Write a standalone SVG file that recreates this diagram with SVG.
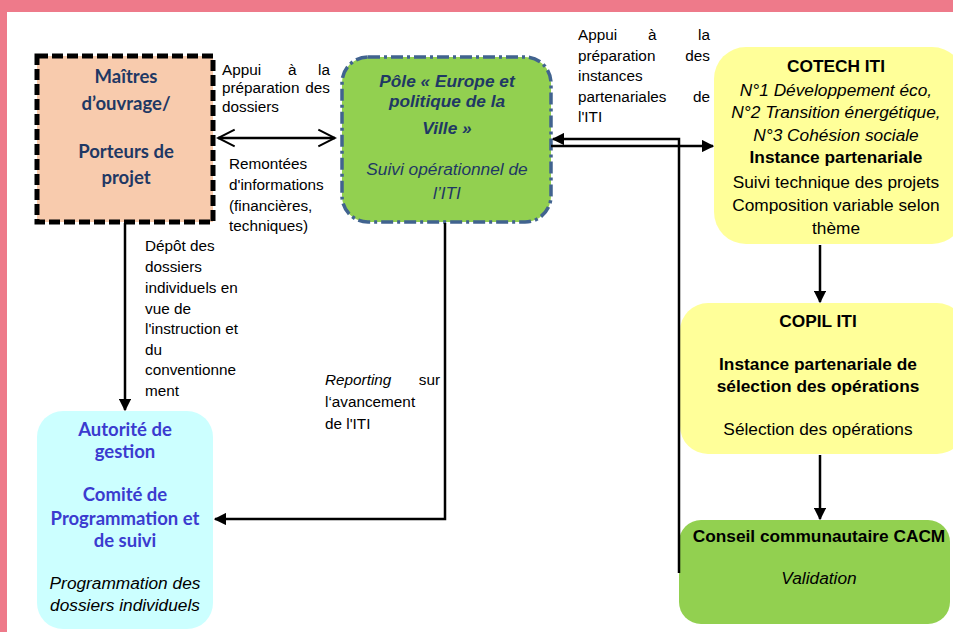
<svg xmlns="http://www.w3.org/2000/svg" width="953" height="632" viewBox="0 0 953 632">
<style>
text{font-family:"Liberation Sans",Arial,sans-serif;fill:#000;}
.lbl{font-size:15.3px;}
.c{text-anchor:middle;}
.e{text-anchor:end;}
.cal{font-family:Lato,"Liberation Sans",sans-serif;font-weight:bold;font-size:18.5px;}
.navy{fill:#1f3864;}
.blue{fill:#3b3bcf;}
.b{font-weight:bold;}
.i{font-style:italic;}
.box{font-size:17.3px;}
.ln{fill:none;stroke:#000;stroke-width:2.5;}
</style>
<defs>
<marker id="ah" viewBox="0 0 10 10" refX="9" refY="5" markerWidth="5" markerHeight="5" orient="auto" markerUnits="strokeWidth">
<path d="M0,0 L10,5 L0,10 z" fill="#000"/>
</marker>
<marker id="open" viewBox="0 0 12 12" refX="11" refY="6" markerWidth="8" markerHeight="8" orient="auto-start-reverse" markerUnits="strokeWidth">
<path d="M1,1 L11,6 L1,11" fill="none" stroke="#000" stroke-width="1.2"/>
</marker>
</defs>
<rect x="0" y="0" width="953" height="632" fill="#fff"/>
<rect x="0" y="0" width="953" height="12" fill="#ee7a8a"/>
<rect x="0" y="0" width="7" height="632" fill="#ee7a8a"/>

<g id="maitres">
<rect x="37" y="56" width="176" height="166" fill="#f8cbad" stroke="#000" stroke-width="5" stroke-dasharray="11 4"/>
<text class="cal navy c" x="126" y="83">Maîtres</text>
<text class="cal navy c" x="126" y="110">d’ouvrage/</text>
<text class="cal navy c" x="126" y="158">Porteurs de</text>
<text class="cal navy c" x="126" y="184">projet</text>
</g>

<g id="pole">
<rect x="342" y="57" width="209" height="165" rx="26" ry="26" fill="#92d050" stroke="#41638f" stroke-width="3.5" stroke-dasharray="12 4 3 4"/>
<text class="box navy b i c" x="447" y="87">Pôle « Europe et</text>
<text class="box navy b i c" x="447" y="107">politique de la</text>
<text class="box navy b i c" x="447" y="134">Ville »</text>
<text class="box navy i c" x="447" y="175">Suivi opérationnel de</text>
<text class="box navy i c" x="447" y="199">l’ITI</text>
</g>

<g id="cotech">
<rect x="714" y="47" width="250" height="197" rx="32" ry="32" fill="#ffff99"/>
<text class="box b c" x="836" y="72">COTECH ITI</text>
<text class="box i c" x="836" y="96">N°1 Développement éco,</text>
<text class="box i c" x="836" y="118">N°2 Transition énergétique,</text>
<text class="box i c" x="836" y="141">N°3 Cohésion sociale</text>
<text class="box b c" x="836" y="163">Instance partenariale</text>
<text class="box c" x="836" y="188">Suivi technique des projets</text>
<text class="box c" x="836" y="211">Composition variable selon</text>
<text class="box c" x="836" y="234">thème</text>
</g>

<g id="copil">
<rect x="680" y="303" width="285" height="151" rx="28" ry="28" fill="#ffff99"/>
<text class="box b c" x="818" y="327">COPIL ITI</text>
<text class="box b c" x="818" y="370">Instance partenariale de</text>
<text class="box b c" x="818" y="392">sélection des opérations</text>
<text class="box c" x="818" y="435">Sélection des opérations</text>
</g>

<g id="conseil">
<rect x="679" y="520" width="271" height="104" rx="22" ry="22" fill="#92d050"/>
<text class="box b c" x="819" y="542">Conseil communautaire CACM</text>
<text class="box i c" x="819" y="584">Validation</text>
</g>

<g id="autorite">
<rect x="37" y="411" width="176" height="218" rx="26" ry="26" fill="#ccffff"/>
<text class="cal blue c" x="125" y="436">Autorité de</text>
<text class="cal blue c" x="125" y="458">gestion</text>
<text class="cal blue c" x="125" y="501">Comité de</text>
<text class="cal blue c" x="125" y="525">Programmation et</text>
<text class="cal blue c" x="125" y="547">de suivi</text>
<text class="box i c" x="125" y="589">Programmation des</text>
<text class="box i c" x="125" y="611">dossiers individuels</text>
</g>

<g id="connectors">
<line class="ln" x1="218" y1="138" x2="335" y2="138" stroke-width="1.6" marker-start="url(#open)" marker-end="url(#open)"/>
<line class="ln" x1="125" y1="223" x2="125" y2="410" marker-end="url(#ah)"/>
<polyline class="ln" points="445,223 445,519 215,519" marker-end="url(#ah)"/>
<polyline class="ln" points="679,573 679,139 553,139" marker-end="url(#ah)"/>
<line class="ln" x1="551" y1="146" x2="713" y2="146" marker-end="url(#ah)"/>
<line class="ln" x1="820" y1="245" x2="820" y2="302" marker-end="url(#ah)"/>
<line class="ln" x1="820" y1="455" x2="820" y2="519" marker-end="url(#ah)"/>
</g>

<g id="labels">
<text class="lbl" x="222" y="75">Appui</text>
<text class="lbl" x="288" y="75">à</text>
<text class="lbl e" x="330" y="75">la</text>
<text class="lbl" x="222" y="93">préparation</text>
<text class="lbl e" x="330" y="93">des</text>
<text class="lbl" x="222" y="112">dossiers</text>
<text class="lbl" x="229" y="169">Remontées</text>
<text class="lbl" x="229" y="190">d'informations</text>
<text class="lbl" x="229" y="211">(financières,</text>
<text class="lbl" x="229" y="231">techniques)</text>

<text class="lbl" x="145" y="251">Dépôt des</text>
<text class="lbl" x="145" y="272">dossiers</text>
<text class="lbl" x="145" y="293">individuels en</text>
<text class="lbl" x="145" y="314">vue de</text>
<text class="lbl" x="145" y="334">l'instruction et</text>
<text class="lbl" x="145" y="355">du</text>
<text class="lbl" x="145" y="375">conventionne</text>
<text class="lbl" x="145" y="396">ment</text>

<text class="lbl i" x="325" y="385">Reporting</text>
<text class="lbl e" x="440" y="385">sur</text>
<text class="lbl" x="325" y="407">l‘avancement</text>
<text class="lbl" x="325" y="429">de l'ITI</text>

<text class="lbl" x="578" y="40">Appui</text>
<text class="lbl" x="648" y="40">à</text>
<text class="lbl e" x="710" y="40">la</text>
<text class="lbl" x="578" y="61">préparation</text>
<text class="lbl e" x="710" y="61">des</text>
<text class="lbl" x="578" y="81">instances</text>
<text class="lbl" x="578" y="102">partenariales</text>
<text class="lbl e" x="710" y="102">de</text>
<text class="lbl" x="578" y="122">l'ITI</text>
</g>
</svg>
